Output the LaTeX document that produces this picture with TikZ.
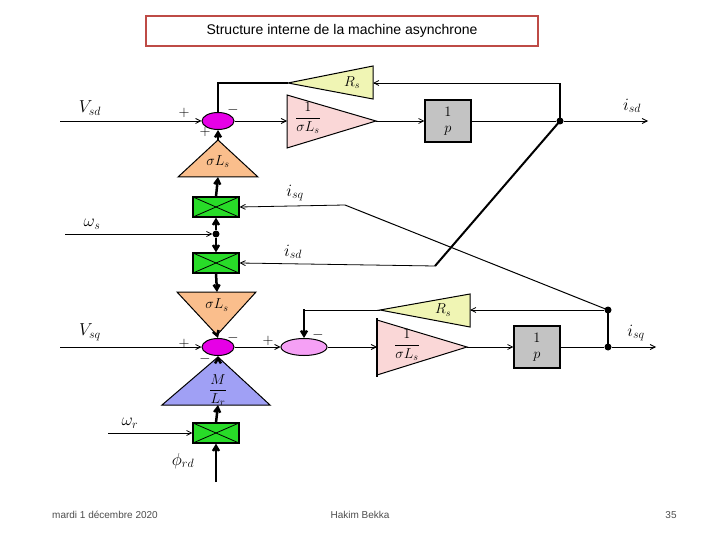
\documentclass[tikz,border=0pt]{standalone}
\usepackage{amsmath}
\usepackage{fontspec}
\setmainfont{Liberation Serif}
\newfontfamily\sansf{Liberation Sans}
\usetikzlibrary{arrows.meta,shapes.geometric}
\definecolor{sumA}{RGB}{230,0,230}
\definecolor{sumB}{RGB}{245,160,245}
\definecolor{triY}{RGB}{240,245,180}
\definecolor{triP}{RGB}{250,215,215}
\definecolor{triO}{RGB}{250,190,140}
\definecolor{triB}{RGB}{160,160,245}
\definecolor{boxG}{RGB}{40,220,40}
\definecolor{boxP}{RGB}{195,195,195}
\definecolor{titleR}{RGB}{190,75,70}
\begin{document}
\begin{tikzpicture}[x=1pt,y=-1pt,
  sig/.style={-{Straight Barb[length=5pt,width=5pt]},line width=0.8pt},
  thk/.style={line width=2.5pt},
  tri/.style={draw=black,line width=1pt},
  sum/.style={ellipse,draw=black,line width=1pt,minimum width=32pt,minimum height=17pt,inner sep=0pt},
  mul/.style={draw=black,line width=1.2pt,fill=boxG,minimum width=46pt,minimum height=20pt,inner sep=0pt,
    path picture={\draw[line width=0.8pt] (path picture bounding box.north west)--(path picture bounding box.south east)
      (path picture bounding box.south west)--(path picture bounding box.north east);}},
  intg/.style={draw=black,line width=1.2pt,fill=boxP,minimum width=46pt,minimum height=42pt,inner sep=0pt,align=center,font=\Large},
  lab/.style={font=\LARGE},
  blk/.style={font=\Large},
  sgn/.style={font=\Large},
  dot/.style={circle,fill=black,inner sep=0pt,minimum width=7pt},
  foot/.style={font=\sansf\fontsize{10}{12}\selectfont,text=black!70}]
\useasboundingbox (0,0) rectangle (720,540);

% title
\node[draw=titleR,line width=1.5pt,minimum width=392pt,minimum height=30pt,font=\sansf\fontsize{14}{16}\selectfont] (title) at (342,31) {Structure interne de la machine asynchrone};

% ---------- d axis ----------
\node[sum,fill=sumA] (s1) at (218,121) {};
\coordinate (vsdin) at (60,121);
\node[lab] (vsd) at (90,108) {$V_{sd}$};
\draw[sig] (vsdin) -- (s1);
\node[sgn] at (184,113) {$+$};
\node[sgn] at (205,132) {$+$};
\node[sgn] at (233,110) {$-$};

% Rs (top)
\filldraw[tri,fill=triY] (288,83) -- (373,66) -- (373,99) -- cycle;
\coordinate (rs1l) at (288,83); \coordinate (rs1r) at (373,83);
\node[blk] (rs1) at (352,83) {$R_s$};
% 1/sigma Ls (top)
\filldraw[tri,fill=triP] (287,95) -- (376,121) -- (287,148) -- cycle;
\coordinate (g1l) at (287,121); \coordinate (g1r) at (376,121);
\node[blk] (g1) at (308,118) {$\dfrac{1}{\sigma L_s}$};
\node[intg] (p1) at (448,121) {$1$\\[-2pt]$p$};
\node[dot] (d1) at (560,121) {};
\coordinate (isdout) at (648,121);
\node[lab] (isd) at (632,106) {$i_{sd}$};
\draw[sig] (s1) -- (g1l);
\draw[sig] (g1r) -- (p1);
\draw[line width=0.8pt] (p1) -- (d1);
\draw[sig] (d1) -- (isdout);
\draw[thk] (d1.center) -- (560,83);
\draw[sig] (560,83) -- (rs1r);
\draw[thk] (rs1l) -- (218,83) -- (s1.north);

% sigma Ls (up)
\filldraw[tri,fill=triO] (218,140) -- (258,177) -- (178,177) -- cycle;
\coordinate (o1b) at (218,177); \coordinate (o1t) at (218,140);
\node[blk] (o1) at (218,162) {$\sigma L_s$};
\draw[thk,-{Straight Barb[length=5pt,width=6pt]}] (o1t) -- (s1.south);

% multipliers
\node[mul] (m1) at (216,207) {};
\node[mul] (m2) at (216,263) {};
\node[dot] (d2) at (216,234) {};
\coordinate (wsin) at (65,234);
\node[lab] (ws) at (92,224) {$\omega_s$};
\draw[sig] (wsin) -- (d2.west);
\draw[thk,-{Straight Barb[length=5pt,width=6pt]}] (m1.north) -- (o1b);
\draw[thk,-{Straight Barb[length=5pt,width=6pt]}] (d2) -- (m1.south);
\draw[thk,-{Straight Barb[length=5pt,width=6pt]}] (d2) -- (m2.north);

% sigma Ls (down)
\filldraw[tri,fill=triO] (177,292) -- (256,292) -- (217,335) -- cycle;
\coordinate (o2t) at (217,292); \coordinate (o2b) at (217,335);
\node[blk] (o2) at (217,305) {$\sigma L_s$};
\draw[thk,-{Straight Barb[length=5pt,width=6pt]}] (m2.south) -- (o2t);

% ---------- q axis ----------
\node[sum,fill=sumA] (s2) at (218,347) {};
\node[sum,fill=sumB,minimum width=46pt] (s3) at (304,347) {};
\coordinate (vsqin) at (60,347);
\node[lab] (vsq) at (90,332) {$V_{sq}$};
\draw[sig] (vsqin) -- (s2);
\draw[thk,-{Straight Barb[length=5pt,width=6pt]}] (o2b) -- (s2.north);
\node[sgn] at (184,344) {$+$};
\node[sgn] at (233,338) {$-$};
\node[sgn] at (205,359) {$-$};
\draw[sig] (s2) -- (s3);
\node[sgn] at (268,341) {$+$};
\node[sgn] at (318,335) {$-$};

% Rs (bottom)
\filldraw[tri,fill=triY] (380,310) -- (470,294) -- (470,327) -- cycle;
\coordinate (rs2l) at (380,310); \coordinate (rs2r) at (470,310);
\node[blk] (rs2) at (443,310) {$R_s$};
\draw[line width=0.8pt] (rs2l) -- (304,310);
\draw[thk,-{Straight Barb[length=5pt,width=6pt]}] (304,309) -- (s3.north);
% 1/sigma Ls (bottom)
\filldraw[tri,fill=triP] (377,320) -- (467,347) -- (377,375) -- cycle;
\coordinate (g2l) at (377,347); \coordinate (g2r) at (467,347);
\node[blk] (g2) at (407,345) {$\dfrac{1}{\sigma L_s}$};
\draw[thk] (377,318) -- (377,377);
\draw[sig] (s3) -- (g2l);
\node[intg] (p2) at (537,347) {$1$\\[-2pt]$p$};
\draw[sig] (g2r) -- (p2);
\node[dot] (d3) at (608,310) {};
\node[dot] (d4) at (608,347) {};
\coordinate (isqout) at (656,347);
\node[lab] (isq) at (636,333) {$i_{sq}$};
\draw[line width=0.8pt] (p2) -- (d4);
\draw[sig] (d4) -- (isqout);
\draw[thk] (d4.center) -- (d3.center);
\draw[sig] (d3) -- (rs2r);

% cross feedback
\coordinate (k1) at (345,205);
\coordinate (k2) at (435,266);
\node[lab] (isq2) at (295,193) {$i_{sq}$};
\node[lab] (isd2) at (293,252) {$i_{sd}$};
\draw[line width=1pt] (d3.center) -- (k1);
\draw[sig] (k1) -- (m1.east);
\draw[line width=2pt] (d1.center) -- (k2);
\draw[sig] (k2) -- (m2.east);

% M/Lr
\filldraw[tri,fill=triB] (218,357) -- (270,405) -- (162,405) -- cycle;
\node[blk] (ml) at (218,390) {$\dfrac{M}{L_r}$};
\coordinate (mlb) at (218,405);
\draw[thk,-{Straight Barb[length=5pt,width=6pt]}] (218,357) -- (s2.south);
\node[mul] (m3) at (216,433) {};
\coordinate (wrin) at (108,433);
\node[lab] (wr) at (130,423) {$\omega_r$};
\draw[sig] (wrin) -- (m3.west);
\draw[thk,-{Straight Barb[length=5pt,width=6pt]}] (m3.north) -- (mlb);
\coordinate (phin) at (216,482);
\node[lab] (phi) at (183,461) {$\phi_{rd}$};
\draw[thk,-{Straight Barb[length=5pt,width=6pt]}] (phin) -- (m3.south);

% footer
\node[foot] (date) at (105,515) {mardi 1 décembre 2020};
\node[foot] (auth) at (360,515) {Hakim Bekka};
\node[foot] (num) at (671,515) {35};
\end{tikzpicture}
\end{document}
